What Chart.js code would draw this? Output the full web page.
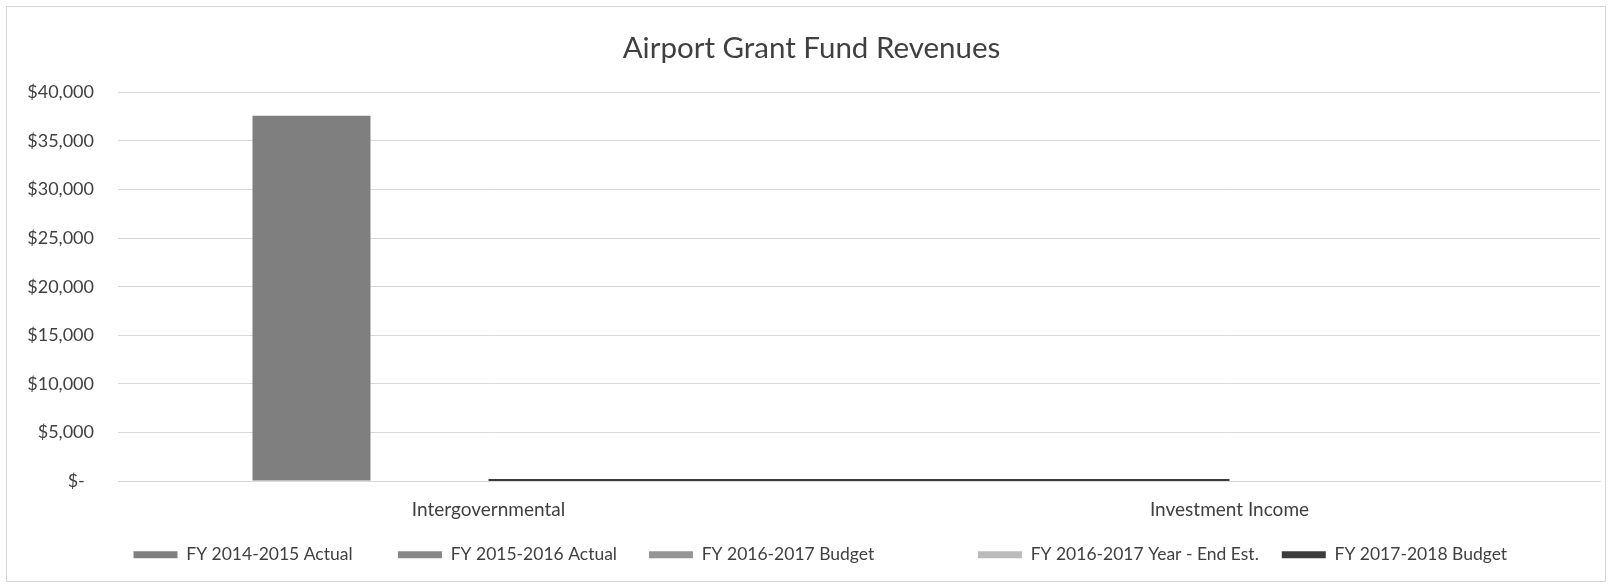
<!DOCTYPE html>
<html>
<head>
<meta charset="utf-8">
<script src="https://cdn.jsdelivr.net/npm/chart.js@4.4.0/dist/chart.umd.min.js"></script>
<style>
  body { margin: 0; background: #fff; overflow: hidden; }
  #wrap {
    position: absolute; left: 6px; top: 6px;
    width: 1600px; height: 576px;
    border: 1px solid #d6d6d6; box-sizing: border-box;
  }
</style>
</head>
<body>
<div id="wrap"><canvas id="revChart"></canvas></div>
<script>
// данные графика
const categories = ['Intergovernmental', 'Investment Income'];
const fy1415Actual = [37600, 0];
const fy1516Actual = [0, 0];
const fy1617Budget = [0, 0];
const fy1617YearEnd = [0, 0];
const fy1718Budget = [0, 0];

const yTicks = [0, 5000, 10000, 15000, 20000, 25000, 30000, 35000, 40000];

const fontName = 'Lato, "Open Sans", sans-serif';

// пробелы после подписи легенды (отступ между пунктами)
const legendGaps = [5, 5, 2, 18, 0];

function money(v){
  if (v === 0) return '$-  ';
  return '$' + v.toLocaleString('en-US');
}

// сдвиг легенды вправо, как в оригинале
const legendShift = {
  id: 'legendShift',
  afterLayout(chart) {
    chart.legend.left += 20;
    chart.legend.right += 20;
  }
};

const ctx = document.getElementById('revChart');
const revChart = new Chart(ctx, {
  type: 'bar',
  data: {
    labels: categories,
    datasets: [{
      label: 'FY 2014-2015 Actual',
      data: fy1415Actual,
      backgroundColor: '#7f7f7f',
      order: 1
    }, {
      label: 'FY 2015-2016 Actual',
      data: fy1516Actual,
      backgroundColor: '#878787',
      order: 1
    }, {
      label: 'FY 2016-2017 Budget',
      data: fy1617Budget,
      backgroundColor: '#959595',
      order: 1
    }, {
      label: 'FY 2016-2017 Year - End Est.',
      data: fy1617YearEnd,
      backgroundColor: '#bababa',
      order: 1
    }, {
      type: 'line',
      label: 'FY 2017-2018 Budget',
      data: fy1718Budget,
      borderColor: '#3c3c3c',
      backgroundColor: '#3c3c3c',
      borderWidth: 4,
      pointRadius: 0,
      fill: false,
      order: 0
    }]
  },
  plugins: [legendShift],
  options: {
    responsive: true,
    maintainAspectRatio: false,
    animation: false,
    categoryPercentage: 0.637,
    barPercentage: 1,
    layout: {
      padding: { left: 16, right: 5, top: 0, bottom: 14 }
    },
    plugins: {
      title: {
        display: true,
        text: 'Airport Grant Fund Revenues',
        color: '#404040',
        font: { family: fontName, size: 29.5, weight: 'normal' },
        padding: { top: 24, bottom: 26 }
      },
      legend: {
        position: 'bottom',
        maxHeight: 44,
        labels: {
          color: '#404040',
          font: { family: fontName, size: 17.5 },
          boxWidth: 44,
          boxHeight: 7,
          padding: 23,
          sort: (a, b) => a.datasetIndex - b.datasetIndex,
          generateLabels: (chart) => {
            const items = Chart.defaults.plugins.legend.labels.generateLabels(chart);
            items.forEach((it, i) => {
              it.lineWidth = 0;
              it.text = it.text + ' '.repeat(legendGaps[i]);
            });
            return items;
          }
        }
      },
      tooltip: { enabled: false }
    },
    scales: {
      x: {
        grid: { display: false, drawTicks: false },
        border: { display: true, color: '#d9d9d9' },
        afterFit: (scale) => {
          scale.height = 42;
        },
        ticks: {
          color: '#404040',
          font: { family: fontName, size: 19 },
          padding: 17
        }
      },
      y: {
        min: 0,
        max: 40000,
        afterBuildTicks: (scale) => {
          scale.ticks = yTicks.map(v => ({ value: v }));
        },
        afterFit: (scale) => {
          scale.width = 95;
        },
        grid: { color: '#d9d9d9', drawTicks: false },
        border: { display: false },
        ticks: {
          color: '#404040',
          font: { family: fontName, size: 18 },
          padding: 24,
          callback: (v) => money(v)
        }
      }
    }
  }
});
</script>
</body>
</html>
